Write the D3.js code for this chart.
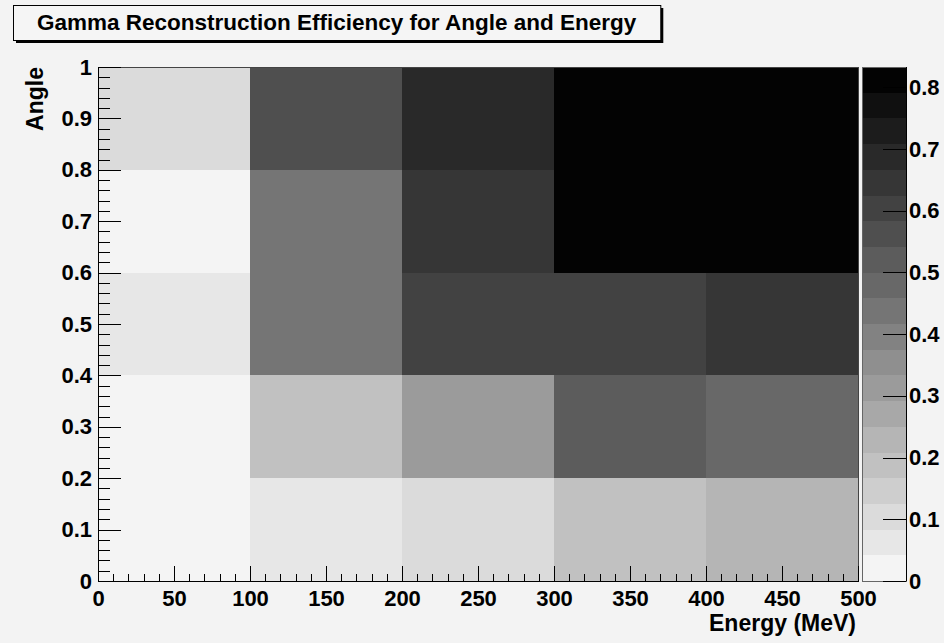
<!DOCTYPE html>
<html>
<head>
<meta charset="utf-8">
<script src="https://cdn.jsdelivr.net/npm/d3@7"></script>
<style>
  body { margin: 0; background: #f3f3f3; }
  text { font-family: "Liberation Sans", Arial, sans-serif; font-weight: bold; }
</style>
</head>
<body>
<script>
var width = 944, height = 643;

// bin edges of the 2D histogram
var energyBins = [0, 100, 200, 300, 400, 500];
var angleBins = [0, 0.2, 0.4, 0.6, 0.8, 1];

// efficiency per cell, one row per angle bin (bottom row first), one column per energy bin
var efficiency = [
    [0.01, 0.06, 0.10, 0.19, 0.23],
    [0.02, 0.19, 0.31, 0.52, 0.47],
    [0.06, 0.44, 0.60, 0.60, 0.64],
    [0.02, 0.43, 0.645, 0.82, 0.83],
    [0.10, 0.56, 0.69, 0.81, 0.82]
];

var zMax = 0.833, nLevels = 20;
var energyTicks = [0, 50, 100, 150, 200, 250, 300, 350, 400, 450, 500];
var angleTicks = [0, 0.1, 0.2, 0.3, 0.4, 0.5, 0.6, 0.7, 0.8, 0.9, 1];
var paletteTicks = [0, 0.1, 0.2, 0.3, 0.4, 0.5, 0.6, 0.7, 0.8];

var title = "Gamma Reconstruction Efficiency for Angle and Energy";

var svg = d3.select("body").append("svg")
    .attr("width", width)
    .attr("height", height);

svg.append("rect").attr("width", width).attr("height", height).attr("fill", "#f3f3f3");

var plot = {left: 98, right: 858, top: 67, bottom: 581};

var x = d3.scaleLinear().domain([0, 500]).range([plot.left, plot.right]);
var y = d3.scaleLinear().domain([0, 1]).range([plot.bottom, plot.top]);
var z = d3.scaleLinear().domain([0, zMax]).range([plot.bottom, plot.top]);

// grey palette, 20 contour levels from light to black
var greys = d3.range(nLevels).map(function(i) {
    var g = Math.round(244 - i * (241 / (nLevels - 1)));
    return d3.rgb(g, g, g).toString();
});
var color = d3.scaleQuantize().domain([0, zMax]).range(greys);

// flatten the cells
var cells = [];
efficiency.forEach(function(row, j) {
    row.forEach(function(v, i) {
        cells.push({x0: energyBins[i], x1: energyBins[i + 1], y0: angleBins[j], y1: angleBins[j + 1], v: v});
    });
});

svg.append("g").attr("id", "cells")
    .selectAll("rect")
    .data(cells)
    .enter().append("rect")
    .attr("x", function(d) { return x(d.x0); })
    .attr("y", function(d) { return y(d.y1); })
    .attr("width", function(d) { return x(d.x1) - x(d.x0); })
    .attr("height", function(d) { return y(d.y0) - y(d.y1); })
    .attr("fill", function(d) { return color(d.v); })
    .attr("shape-rendering", "crispEdges");

// frame
svg.append("rect")
    .attr("x", plot.left).attr("y", plot.top)
    .attr("width", plot.right - plot.left).attr("height", plot.bottom - plot.top)
    .attr("fill", "none").attr("stroke", "#444").attr("shape-rendering", "crispEdges");

var fmt = function(d) { return String(+d.toFixed(1)); };

// x axis: major + minor ticks pointing into the frame
svg.append("g")
    .attr("transform", "translate(0," + plot.bottom + ")")
    .call(d3.axisBottom(x).tickValues(d3.range(0, 501, 10)).tickSize(-7).tickSizeOuter(0).tickFormat(""));
var xAxis = svg.append("g")
    .attr("transform", "translate(0," + plot.bottom + ")")
    .call(d3.axisBottom(x).tickValues(energyTicks).tickSize(-15).tickSizeOuter(0).tickPadding(9).tickFormat(fmt));

// y axis
svg.append("g")
    .attr("transform", "translate(" + plot.left + ",0)")
    .call(d3.axisLeft(y).tickValues(d3.range(0, 51).map(function(i) { return i / 50; })).tickSize(-12).tickSizeOuter(0).tickFormat(""));
var yAxis = svg.append("g")
    .attr("transform", "translate(" + plot.left + ",0)")
    .call(d3.axisLeft(y).tickValues(angleTicks).tickSize(-23).tickSizeOuter(0).tickPadding(6).tickFormat(fmt));

svg.selectAll(".tick text").attr("fill", "#000").style("font-size", "22px");
svg.selectAll(".domain, .tick line").attr("stroke", "#000").attr("shape-rendering", "crispEdges");

// axis titles
svg.append("text")
    .attr("x", plot.right - 2).attr("y", 631)
    .attr("text-anchor", "end").style("font-size", "23px")
    .text("Energy (MeV)");
svg.append("text")
    .attr("transform", "translate(43," + plot.top + ") rotate(-90)")
    .attr("text-anchor", "end").style("font-size", "23px")
    .text("Angle");

// palette
var pal = svg.append("g").attr("id", "palette");
var pLeft = 862, pRight = 906;
pal.selectAll("rect")
    .data(greys)
    .enter().append("rect")
    .attr("x", pLeft)
    .attr("y", function(d, i) { return z((i + 1) * zMax / nLevels); })
    .attr("width", pRight - pLeft)
    .attr("height", function(d, i) { return z(i * zMax / nLevels) - z((i + 1) * zMax / nLevels); })
    .attr("fill", function(d) { return d; })
    .attr("shape-rendering", "crispEdges");
pal.append("rect")
    .attr("x", pLeft).attr("y", plot.top)
    .attr("width", pRight - pLeft).attr("height", plot.bottom - plot.top)
    .attr("fill", "none").attr("stroke", "#666").attr("shape-rendering", "crispEdges");
var zAxis = pal.append("g")
    .attr("transform", "translate(" + pRight + ",0)")
    .call(d3.axisRight(z).tickValues(paletteTicks).tickSize(-23).tickSizeOuter(0).tickPadding(3).tickFormat(fmt));
zAxis.selectAll("text").attr("fill", "#000").style("font-size", "22px");
zAxis.selectAll(".domain, .tick line").attr("stroke", "#000").attr("shape-rendering", "crispEdges");
zAxis.select(".domain").attr("d", "M0," + plot.top + "V" + plot.bottom);

// title box with shadow
var tbox = svg.append("g").attr("id", "title");
var shadow = tbox.append("rect");
var box = tbox.append("rect");
var tText = tbox.append("text")
    .attr("x", 37).attr("y", 30)
    .style("font-size", "22.5px")
    .text(title);
var tw = tText.node().getComputedTextLength();
box.attr("x", 13.5).attr("y", 5.5).attr("width", tw + 48).attr("height", 35)
    .attr("fill", "#f5f5f5").attr("stroke", "#000");
shadow.attr("x", 16).attr("y", 8).attr("width", tw + 48).attr("height", 35).attr("fill", "#000");
</script>
</body>
</html>
